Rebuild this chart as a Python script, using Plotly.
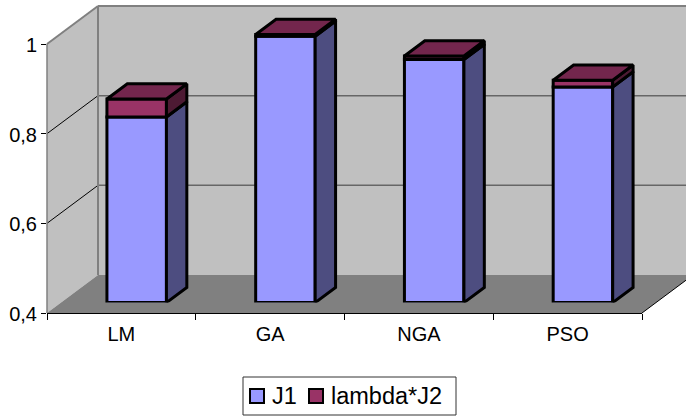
import plotly.graph_objects as go

# Chart values
methods = ["LM", "GA", "NGA", "PSO"]
j1 = [0.814, 0.994, 0.942, 0.881]
lambda_j2 = [0.04, 0.004, 0.008, 0.015]
y_ticks = [0.4, 0.6, 0.8, 1.0]
y_tick_text = ["0,4", "0,6", "0,8", "1"]

W, H = 686, 416

# Front plane of the 3D box, in pixels
LEFT, RIGHT = 47, 642
BOTTOM, TOP = 313, 44
# Oblique depth of the box and where the bars sit inside it
DEPTH_X, DEPTH_Y = 51, 38
BAR_FRONT, BAR_BACK = 0.3, 0.7
BAR_WIDTH = 0.4
# Vertical lift of the bars' front faces above the front plane
BAR_LIFT = 10.4

YMIN, YMAX = 0.4, 1.0
# Headroom on the bar axis so the top faces stay inside its plot area
BAR_YMAX = 1.05
CAT_PX = (RIGHT - LEFT) / len(methods)
VAL_PX = (BOTTOM - TOP) / (YMAX - YMIN)


def px(x):
    return x / W


def py(y):
    return 1 - y / H


def val_y(v):
    return BOTTOM - (v - YMIN) * VAL_PX


def poly(points):
    return "M" + "L".join(f"{px(x)},{py(y)}" for x, y in points) + "Z"


GREY = "#c0c0c0"
DARK = "#808080"
shapes = []


def add_poly(points, fill, line=None, width=0):
    shapes.append(dict(type="path", xref="paper", yref="paper", layer="below", path=poly(points),
                       fillcolor=fill, line=dict(color=line or fill, width=width)))


def add_line(x0, y0, x1, y1, color, width):
    shapes.append(dict(type="line", xref="paper", yref="paper", layer="below",
                       x0=px(x0), y0=py(y0), x1=px(x1), y1=py(y1), line=dict(color=color, width=width)))


# Walls and floor
add_poly([(LEFT, BOTTOM), (LEFT, TOP), (LEFT + DEPTH_X, TOP - DEPTH_Y), (LEFT + DEPTH_X, BOTTOM - DEPTH_Y)], GREY)
add_poly([(LEFT + DEPTH_X, BOTTOM - DEPTH_Y), (LEFT + DEPTH_X, TOP - DEPTH_Y),
          (RIGHT + DEPTH_X, TOP - DEPTH_Y), (RIGHT + DEPTH_X, BOTTOM - DEPTH_Y)], GREY)
add_poly([(LEFT, BOTTOM), (RIGHT, BOTTOM), (RIGHT + DEPTH_X, BOTTOM - DEPTH_Y), (LEFT + DEPTH_X, BOTTOM - DEPTH_Y)], DARK)

# Gridlines run along the side wall and across the back wall
for v in y_ticks[1:-1]:
    y = val_y(v)
    add_line(LEFT, y, LEFT + DEPTH_X, y - DEPTH_Y, "#000000", 1)
    add_line(LEFT + DEPTH_X, y - DEPTH_Y, RIGHT + DEPTH_X, y - DEPTH_Y, "#666666", 1.5)

# Wall edges
add_line(LEFT, TOP, LEFT + DEPTH_X, TOP - DEPTH_Y, DARK, 2)
add_line(LEFT + DEPTH_X, TOP - DEPTH_Y, RIGHT + DEPTH_X, TOP - DEPTH_Y, DARK, 2)
add_line(LEFT + DEPTH_X, TOP - DEPTH_Y, LEFT + DEPTH_X, BOTTOM - DEPTH_Y, DARK, 2)
add_line(LEFT, TOP, LEFT, BOTTOM, DARK, 1.5)
add_line(RIGHT, BOTTOM, RIGHT + DEPTH_X, BOTTOM - DEPTH_Y, "#000000", 1)

fig = go.Figure()

# Invisible trace keeps the category axis on the front plane
fig.add_trace(go.Scatter(x=methods, y=[YMIN] * len(methods), mode="markers",
                         marker=dict(opacity=0), hoverinfo="skip", showlegend=False))

# Bar geometry in the units of the shifted axes
positions = [i + 0.5 for i in range(len(methods))]
dx = (BAR_BACK - BAR_FRONT) * DEPTH_X / CAT_PX
dy = (BAR_BACK - BAR_FRONT) * DEPTH_Y / VAL_PX
totals = [a + b for a, b in zip(j1, lambda_j2)]
OUTLINE = dict(color="#000000", width=3)

fig.add_trace(go.Bar(name="J1", x=positions, y=[v - YMIN for v in j1], base=[YMIN] * len(j1),
                     width=BAR_WIDTH, marker=dict(color="#9999ff", line=OUTLINE),
                     xaxis="x2", yaxis="y2", cliponaxis=False))
fig.add_trace(go.Bar(name="lambda*J2", x=positions, y=lambda_j2, base=j1,
                     width=BAR_WIDTH, marker=dict(color="#993366", line=OUTLINE),
                     xaxis="x2", yaxis="y2", cliponaxis=False))


def face(xs, ys, color):
    fig.add_trace(go.Scatter(x=xs + xs[:1], y=ys + ys[:1], mode="lines", fill="toself", fillcolor=color,
                             line=dict(color="#000000", width=3), hoverinfo="skip", showlegend=False,
                             xaxis="x2", yaxis="y2", cliponaxis=False))


for p, low, high in zip(positions, j1, totals):
    left, right = p - BAR_WIDTH / 2, p + BAR_WIDTH / 2
    face([right, right + dx, right + dx, right], [YMIN, YMIN + dy, low + dy, low], "#4d4d80")
    face([right, right + dx, right + dx, right], [low, low + dy, high + dy, high], "#4d1a33")
    face([left, right, right + dx, left + dx], [high, high, high + dy, high + dy], "#73264d")

# Legend box with swatches and labels
LEGEND = dict(x0=243, y0=377, x1=456, y1=415)
shapes.append(dict(type="rect", xref="paper", yref="paper", layer="above",
                   x0=px(LEGEND["x0"]), x1=px(LEGEND["x1"]), y0=py(LEGEND["y0"]), y1=py(LEGEND["y1"]),
                   fillcolor="#ffffff", line=dict(color="#333333", width=1)))
annotations = []
for name, color, sx, tx in [("J1", "#9999ff", 250, 271), ("lambda*J2", "#993366", 309, 330)]:
    shapes.append(dict(type="rect", xref="paper", yref="paper", layer="above",
                       x0=px(sx), x1=px(sx + 14), y0=py(389), y1=py(403),
                       fillcolor=color, line=dict(color="#000000", width=2)))
    annotations.append(dict(text=name, xref="paper", yref="paper", x=px(tx), y=py(396),
                            xanchor="left", yanchor="middle", showarrow=False, borderpad=0,
                            font=dict(family="Liberation Sans", size=23.5, color="#000000")))

FONT = dict(family="Liberation Sans", size=20, color="#000000")
fig.update_layout(
    width=W, height=H, margin=dict(l=0, r=0, t=0, b=0, autoexpand=False),
    paper_bgcolor="#ffffff", plot_bgcolor="rgba(0,0,0,0)",
    showlegend=False, barmode="overlay", shapes=shapes, annotations=annotations,
    xaxis=dict(domain=[px(LEFT), px(RIGHT)], type="category", categoryorder="array", categoryarray=methods,
               range=[-0.5, len(methods) - 0.5], tickson="boundaries", ticks="outside", ticklen=6,
               tickcolor="#000000", tickwidth=1, showgrid=False, zeroline=False, showline=True,
               linecolor="#000000", linewidth=1, tickfont=FONT, anchor="y", ticklabelstandoff=3),
    yaxis=dict(domain=[py(BOTTOM), py(TOP)], range=[YMIN, YMAX], tickvals=y_ticks, ticktext=y_tick_text,
               ticks="outside", ticklen=5, tickcolor="#000000", tickwidth=1, showgrid=False, zeroline=False,
               showline=False, tickfont=FONT, anchor="x", ticklabelshift=1),
    xaxis2=dict(domain=[px(LEFT + BAR_FRONT * DEPTH_X), px(RIGHT + BAR_FRONT * DEPTH_X)],
                range=[0, len(methods)], visible=False, anchor="y2"),
    yaxis2=dict(domain=[py(BOTTOM - BAR_LIFT), py(TOP - BAR_LIFT - (BAR_YMAX - YMAX) * VAL_PX)],
                range=[YMIN, BAR_YMAX], visible=False, anchor="x2"),
)

fig.write_html("out.html")
